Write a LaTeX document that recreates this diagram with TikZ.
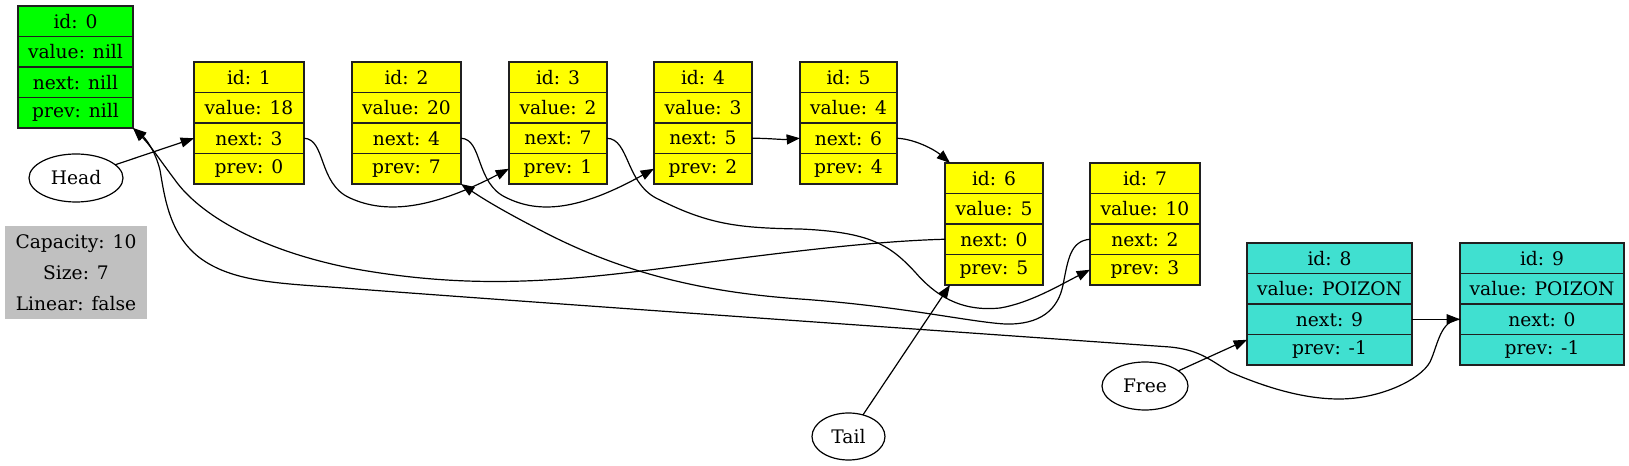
\documentclass[tikz,border=0pt]{standalone}
\usepackage{fontspec}
\setmainfont{DejaVu Serif}
\usetikzlibrary{arrows.meta,calc,shapes.geometric}
\definecolor{recgreen}{HTML}{00FF00}
\definecolor{recyellow}{HTML}{FFFF00}
\definecolor{recturq}{HTML}{40E0D0}
\definecolor{infogray}{HTML}{C0C0C0}
\definecolor{recline}{HTML}{202020}
\newcommand\recordbox[9]{%
 \node[fld,fill=#5,minimum width={#4*0.75pt}] (#1id) at (#2,#3) {#6};
 \node[fld,fill=#5,minimum width={#4*0.75pt}] (#1val) at (#2,#3+30.5) {#7};
 \node[fld,fill=#5,minimum width={#4*0.75pt}] (#1next) at (#2,#3+61) {#8};
 \node[fld,fill=#5,minimum width={#4*0.75pt}] (#1prev) at (#2,#3+91.5) {#9};
}
\begin{document}
\begin{tikzpicture}[x=0.75pt,y=-0.75pt,
  fld/.style={draw=recline,line width=0.85pt,minimum height=22.875pt,inner sep=0pt,outer sep=0pt,anchor=north west,font=\fontsize{14}{16}\selectfont},
  oval/.style={ellipse,draw=black,line width=0.9pt,inner sep=0pt,outer sep=0pt,font=\fontsize{14}{16}\selectfont},
  link/.style={draw=black,line width=0.9pt,-{Triangle[length=10pt,width=7.5pt]}}]
\useasboundingbox (0,0) rectangle (1629,466);
\recordbox{n0}{18}{6}{115}{recgreen}{id: 0}{value: nill}{next: nill}{prev: nill}
\recordbox{n1}{194}{62}{110}{recyellow}{id: 1}{value: 18}{next: 3}{prev: 0}
\recordbox{n2}{352}{62}{109}{recyellow}{id: 2}{value: 20}{next: 4}{prev: 7}
\recordbox{n3}{509}{62}{98}{recyellow}{id: 3}{value: 2}{next: 7}{prev: 1}
\recordbox{n4}{654}{62}{98}{recyellow}{id: 4}{value: 3}{next: 5}{prev: 2}
\recordbox{n5}{800}{62}{97}{recyellow}{id: 5}{value: 4}{next: 6}{prev: 4}
\recordbox{n6}{945}{163}{98}{recyellow}{id: 6}{value: 5}{next: 0}{prev: 5}
\recordbox{n7}{1090}{163}{110}{recyellow}{id: 7}{value: 10}{next: 2}{prev: 3}
\recordbox{n8}{1247}{243}{165}{recturq}{id: 8}{value: POIZON}{next: 9}{prev: -1}
\recordbox{n9}{1460}{243}{164}{recturq}{id: 9}{value: POIZON}{next: 0}{prev: -1}
\node[oval,minimum width=70.5pt,minimum height=36pt] (Head) at (76,178) {Head};
\node[oval,minimum width=54.75pt,minimum height=35.25pt] (Tail) at (848.5,436.5) {Tail};
\node[oval,minimum width=64.5pt,minimum height=36pt] (Free) at (1145,386) {Free};
\node[fill=infogray,minimum width=106.5pt,minimum height=69.75pt,inner sep=0pt,align=center,font=\fontsize{14}{23.25}\selectfont] (info) at (76,272.5) {Capacity: 10\\Size: 7\\Linear: false};
% edges
\draw[link] (Head) -- (n1next.west);
\draw[link] (n1next.east) .. controls (326,139) and (318,184) .. (350,198) .. controls (385,214) and (430,210) .. (n3prev.west);
\draw[link] (n2next.east) .. controls (483,139) and (475,184) .. (507,198) .. controls (540,214) and (580,210) .. (n4prev.west);
\draw[link] (n3next.east) .. controls (630,139) and (625,185) .. (660,200) .. controls (710,225) and (740,228) .. (800,229) .. controls (870,232) and (890,245) .. (915,272) .. controls (935,295) and (960,312) .. (1000,308) .. controls (1030,303) and (1060,285) .. (n7prev.west);
\draw[link] (n4next.east) to[out=0,in=185] (n5next.west);
\draw[link] (n5next.east) .. controls (915,139) and (935,150) .. ($(n6id.north west)+(5,0)$);
\draw[link] (n6next.west) .. controls (880,241) and (800,250) .. (680,266) .. controls (560,282) and (470,290) .. (350,268) .. controls (260,250) and (200,215) .. (175,180) .. controls (160,160) and (150,145) .. (n0prev.south east);
\draw[link] (n7next.west) .. controls (1070,241) and (1068,260) .. (1063,285) .. controls (1058,310) and (1040,325) .. (1005,324) .. controls (970,322) and (900,306) .. (800,299) .. controls (700,292) and (620,272) .. (540,230) .. controls (505,212) and (485,200) .. (n2prev.south east);
\draw[link] (n9next.west) .. controls (1440,320) and (1438,345) .. (1430,362) .. controls (1420,380) and (1380,399) .. (1339,399) .. controls (1300,399) and (1260,385) .. (1230,372) .. controls (1210,360) and (1200,350) .. (1170,347) .. controls (900,328) and (500,300) .. (330,287) .. controls (270,283) and (230,280) .. (200,258) .. controls (170,235) and (165,200) .. (160,170) .. controls (155,150) and (145,138) .. (n0prev.south east);
\draw[link] (Tail) -- ($(n6prev.south west)+(5,0)$);
\draw[link] (Free) -- ($(n8prev.west)+(0,-10)$);
\draw[link] (n8next.east) -- (n9next.west);
\end{tikzpicture}
\end{document}
